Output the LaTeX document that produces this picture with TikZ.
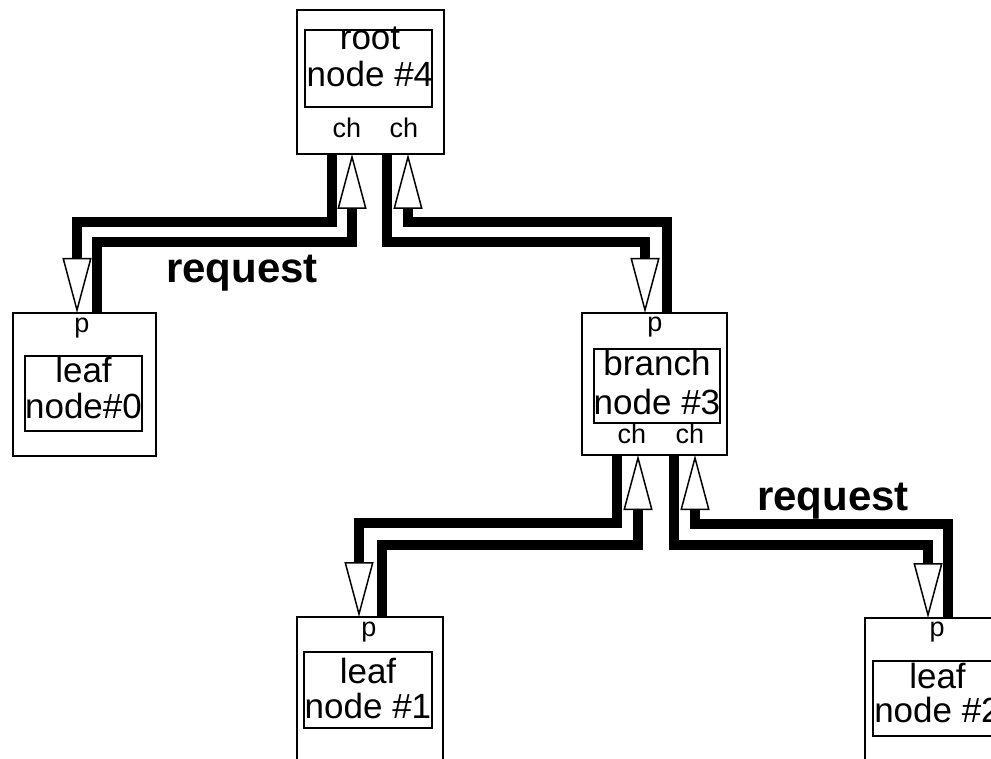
\documentclass[tikz,border=0pt]{standalone}
\usepackage{fontspec}
\setmainfont{Liberation Sans}
\usetikzlibrary{arrows.meta}
\begin{document}
\begin{tikzpicture}[x=1pt,y=-1pt,
  box/.style={draw,line width=2pt,inner sep=0pt,outer sep=0pt},
  boxline/.style={anchor=base,inner sep=0pt,font=\fontsize{35}{35}\selectfont},
  port/.style={anchor=base,inner sep=0pt,font=\fontsize{27}{27}\selectfont},
  reqtext/.style={anchor=base,inner sep=0pt,font=\bfseries\fontsize{42}{42}\selectfont},
  wire/.style={line width=10pt,line join=miter,
    -{Triangle[length=55pt,width=29pt,fill=white,line width=1.5pt]}}
]
\useasboundingbox (0,0) rectangle (991,759);
\clip (0,0) rectangle (991,759);

% outer boxes of the tree nodes
\node[box,minimum width=147pt,minimum height=144pt] (root)   at (370.5,82) {};
\node[box,minimum width=143pt,minimum height=143pt] (leaf0)  at (84.5,384.5) {};
\node[box,minimum width=145pt,minimum height=142pt] (branch) at (654.5,384) {};
\node[box,minimum width=146pt,minimum height=143pt] (leaf1)  at (370,688.5) {};
\node[box,minimum width=145pt,minimum height=143pt] (leaf2)  at (937.5,689.5) {};

% inner boxes
\node[box,minimum width=127pt,minimum height=77pt] (rootin)   at (368.5,68.5) {};
\node[box,minimum width=117pt,minimum height=75pt] (leaf0in)  at (83.5,393.5) {};
\node[box,minimum width=126pt,minimum height=74pt] (branchin) at (657,386) {};
\node[box,minimum width=128pt,minimum height=76pt] (leaf1in)  at (368,690) {};
\node[box,minimum width=128pt,minimum height=75pt] (leaf2in)  at (937,698.5) {};

% node titles
\node[boxline] (rootA)   at (370,50)  {root};
\node[boxline] (rootB)   at (370,87)  {node \#4};
\node[boxline] (leaf0A)  at (83.5,383) {leaf};
\node[boxline] (leaf0B)  at (83.5,418) {node\#0};
\node[boxline] (branchA) at (657,376) {branch};
\node[boxline] (branchB) at (657,414) {node \#3};
\node[boxline] (leaf1A)  at (368,683) {leaf};
\node[boxline] (leaf1B)  at (368,718) {node \#1};
\node[boxline] (leaf2A)  at (937.5,688) {leaf};
\node[boxline] (leaf2B)  at (937.5,722) {node \#2};

% port labels
\node[port] (rootc1)   at (347,138) {ch};
\node[port] (rootc2)   at (404,138) {ch};
\node[port] (branchc1) at (632,443) {ch};
\node[port] (branchc2) at (690,443) {ch};
\node[port] (leaf0p)   at (82,333)  {p};
\node[port] (branchp)  at (655,332) {p};
\node[port] (leaf1p)   at (369,636) {p};
\node[port] (leaf2p)   at (937,636) {p};

% parent -> child links
\draw[wire] ([xshift=35pt]root.south west) -- ++(0,68) -| ([xshift=64pt]leaf0.north west);
\draw[wire] ([xshift=90pt]root.south west) -- ++(0,88) -| ([xshift=63pt]branch.north west);
\draw[wire] ([xshift=35pt]branch.south west) -- ++(0,68) -| ([xshift=62pt]leaf1.north west);
\draw[wire] ([xshift=92pt]branch.south west) -- ++(0,90) -| ([xshift=63pt]leaf2.north west);

% child -> parent links
\draw[wire] ([xshift=84pt]leaf0.north west) -- ++(0,-71) -| ([xshift=55pt]root.south west);
\draw[wire] ([xshift=85pt]branch.north west) -- ++(0,-91) -| ([xshift=111pt]root.south west);
\draw[wire] ([xshift=85pt]leaf1.north west) -- ++(0,-72) -| ([xshift=56pt]branch.south west);
\draw[wire] ([xshift=83pt]leaf2.north west) -- ++(0,-94) -| ([xshift=113pt]branch.south west);

% link captions
\node[reqtext] (req1) at (242,283) {request};
\node[reqtext] (req2) at (833,510) {request};
\end{tikzpicture}
\end{document}
